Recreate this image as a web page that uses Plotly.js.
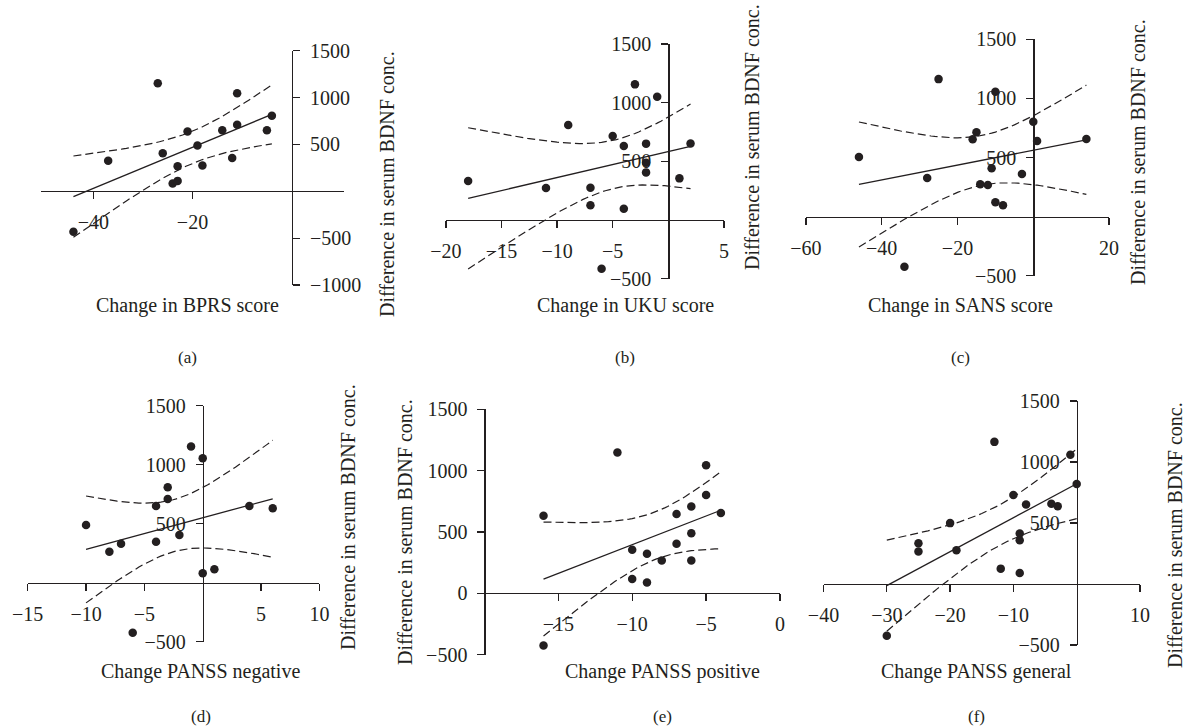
<!DOCTYPE html>
<html><head><meta charset="utf-8">
<script src="https://cdn.plot.ly/plotly-3.0.1.min.js"></script>
<style>html,body{margin:0;padding:0;background:#fff}#chart{width:1189px;height:726px}</style>
</head><body><div id="chart"></div>
<script>
// ---- data ----
const bprsX = [-44, -37, -27, -26, -21, -23, -24, -23, -19, -18, -14, -12, -11, -11, -5, -4];
const bprsY = [-432, 325, 1153, 407, 639, 268, 82, 111, 489, 275, 650, 354, 1046, 711, 650, 807];

const ukuX = [-18, -11, -9, -7, -7, -6, -5, -4, -4, -3, -2, -2, -2, -1, 1, 2];
const ukuY = [332, 273, 810, 276, 125, -415, 716, 631, 97, 1156, 651, 489, 406, 1051, 355, 653];

const sansX = [-46, -34, -28, -25, -16, -15, -14, -12, -11, -10, -10, -8, -3, 0, 1, 14];
const sansY = [504, -422, 326, 1162, 654, 713, 274, 268, 409, 1056, 122, 96, 361, 802, 639, 656];

const negX = [-10, -8, -7, -4, -4, -3, -3, -2, -1, 0, 0, 1, -6, 4, 6];
const negY = [489, 263, 331, 650, 347, 808, 709, 404, 1155, 1054, 80, 114, -424, 650, 630];

const posX = [-16, -16, -11, -10, -10, -9, -9, -8, -7, -7, -6, -6, -6, -5, -5, -4];
const posY = [632, -425, 1147, 354, 117, 322, 87, 267, 646, 403, 708, 490, 267, 1044, 801, 654];

const genX = [-30, -25, -25, -20, -19, -13, -12, -10, -9, -9, -9, -8, -4, -3, -1, 0];
const genY = [-425, 334, 266, 499, 277, 1165, 126, 729, 414, 359, 90, 652, 658, 638, 1060, 819];

const aXTicks = [-40, -20];
const aYTicks = [-1000, -500, 500, 1000, 1500];
const bXTicks = [-20, -15, -10, -5, 5];
const cXTicks = [-60, -40, -20, 20];
const dXTicks = [-15, -10, -5, 5, 10];
const eXTicks = [-15, -10, -5, 0];
const eYTicks = [-500, 0, 500, 1000, 1500];
const fXTicks = [-40, -30, -20, -10, 10];
const stdYTicks = [-500, 500, 1000, 1500];

const xTitles = ["Change in BPRS score", "Change in UKU score", "Change in SANS score",
                 "Change PANSS negative", "Change PANSS positive", "Change PANSS general"];
const panelLetters = ["(a)", "(b)", "(c)", "(d)", "(e)", "(f)"];
const yTitle = "Difference in serum BDNF conc.";

// t critical values (two-sided 95%) by degrees of freedom
const tCrit = {13: 2.160, 14: 2.145};

// ---- layout (pixel boxes) ----
const W = 1189, H = 726;
const INK = '#231f20';
const FONT = 'Liberation Serif, Times New Roman, serif';

const panels = [
  {x: bprsX, y: bprsY, xt: aXTicks, yt: aYTicks, xr: [-50.5, 10.5], yr: [-1000, 1500], px: [41.2, 343.8], py: [50.7, 285], side: 'right', yAt: 0,
   tx: 187, ty: 306, lx: 187, ly: 357, gx: 387, gy: 184},
  {x: ukuX, y: ukuY, xt: bXTicks, yt: stdYTicks, xr: [-20, 5], yr: [-500, 1500], px: [445.9, 723.9], py: [44, 278.7], side: 'left', yAt: 0,
   tx: 625, ty: 306, lx: 625, ly: 357, gx: 752, gy: 137},
  {x: sansX, y: sansY, xt: cXTicks, yt: stdYTicks, xr: [-60, 20], yr: [-500, 1500], px: [805.9, 1109.1], py: [39.1, 275.9], side: 'left', yAt: 0,
   tx: 960, ty: 306, lx: 960, ly: 357, gx: 1138, gy: 152},
  {x: negX, y: negY, xt: dXTicks, yt: stdYTicks, xr: [-15, 10], yr: [-500, 1500], px: [27.7, 319.4], py: [405.7, 641.7], side: 'left', yAt: 0,
   tx: 201, ty: 671, lx: 201, ly: 716, gx: 348, gy: 517},
  {x: posX, y: posY, xt: eXTicks, yt: eYTicks, xr: [-20, 0], yr: [-500, 1500], px: [484.4, 780], py: [409.3, 654.6], side: 'left', yAt: -20,
   tx: 662, ty: 671, lx: 662, ly: 716, gx: 405, gy: 532},
  {x: genX, y: genY, xt: fXTicks, yt: stdYTicks, xr: [-40, 10], yr: [-500, 1500], px: [823.5, 1140], py: [401, 645], side: 'left', yAt: 0,
   tx: 976, ty: 671, lx: 976, ly: 716, gx: 1175, gy: 535}
];

function regression(xs, ys) {
  const n = xs.length;
  const mx = xs.reduce((s, v) => s + v, 0) / n;
  const my = ys.reduce((s, v) => s + v, 0) / n;
  let sxx = 0, sxy = 0;
  for (let i = 0; i < n; i++) { sxx += (xs[i] - mx) ** 2; sxy += (xs[i] - mx) * (ys[i] - my); }
  const b = sxy / sxx, a = my - b * mx;
  let sse = 0;
  for (let i = 0; i < n; i++) sse += (ys[i] - a - b * xs[i]) ** 2;
  const s = Math.sqrt(sse / (n - 2));
  const t = tCrit[n - 2] || 2.145;
  const lo = Math.min(...xs), hi = Math.max(...xs);
  const gx = [], fit = [], up = [], dn = [];
  const steps = 60;
  for (let k = 0; k <= steps; k++) {
    const xv = lo + (hi - lo) * k / steps;
    const yh = a + b * xv;
    const h = t * s * Math.sqrt(1 / n + (xv - mx) ** 2 / sxx);
    gx.push(xv); fit.push(yh); up.push(yh + h); dn.push(yh - h);
  }
  return {gx, fit, up, dn};
}

const traces = [];
const layout = {
  width: W, height: H,
  margin: {l: 0, r: 0, t: 0, b: 0},
  paper_bgcolor: '#ffffff', plot_bgcolor: 'rgba(0,0,0,0)',
  showlegend: false,
  font: {family: FONT, size: 20, color: INK},
  annotations: []
};

panels.forEach((p, i) => {
  const sfx = i === 0 ? '' : String(i + 1);
  const xa = 'x' + sfx, ya = 'y' + sfx;
  const r = regression(p.x, p.y);
  traces.push({x: r.gx, y: r.up, xaxis: xa, yaxis: ya, mode: 'lines', type: 'scatter',
               line: {color: INK, width: 1.2, dash: '8px,4px'}, hoverinfo: 'skip'});
  traces.push({x: r.gx, y: r.dn, xaxis: xa, yaxis: ya, mode: 'lines', type: 'scatter',
               line: {color: INK, width: 1.2, dash: '8px,4px'}, hoverinfo: 'skip'});
  traces.push({x: r.gx, y: r.fit, xaxis: xa, yaxis: ya, mode: 'lines', type: 'scatter',
               line: {color: INK, width: 1.3}, hoverinfo: 'skip'});
  traces.push({x: p.x, y: p.y, xaxis: xa, yaxis: ya, mode: 'markers', type: 'scatter',
               marker: {color: INK, size: 8.5}, cliponaxis: false});

  const x0 = p.px[0] / W, x1 = p.px[1] / W;
  const yTop = 1 - p.py[0] / H, yBot = 1 - p.py[1] / H;
  const yZeroFrac = yBot + (0 - p.yr[0]) / (p.yr[1] - p.yr[0]) * (yTop - yBot);
  const xAxisFrac = x0 + (p.yAt - p.xr[0]) / (p.xr[1] - p.xr[0]) * (x1 - x0);

  layout['xaxis' + sfx] = {
    domain: [x0, x1], range: p.xr, anchor: 'free', position: yZeroFrac,
    showline: true, linecolor: INK, linewidth: 1.2,
    ticks: 'outside', ticklen: 7, tickwidth: 1.2, tickcolor: INK,
    tickmode: 'array', tickvals: p.xt, ticklabelstandoff: 6,
    showgrid: false, zeroline: false, fixedrange: true,
    tickfont: {family: FONT, size: 20, color: INK}
  };
  layout['yaxis' + sfx] = {
    domain: [yBot, yTop], range: p.yr, anchor: 'free', position: xAxisFrac, side: p.side,
    showline: true, linecolor: INK, linewidth: 1.2,
    ticks: 'outside', ticklen: 7, tickwidth: 1.2, tickcolor: INK,
    tickmode: 'array', tickvals: p.yt, ticklabelstandoff: 6,
    showgrid: false, zeroline: false, fixedrange: true,
    tickfont: {family: FONT, size: 20, color: INK}
  };

  layout.annotations.push({text: xTitles[i], xref: 'paper', yref: 'paper', x: p.tx / W, y: 1 - p.ty / H,
    xanchor: 'center', yanchor: 'middle', showarrow: false, font: {family: FONT, size: 20, color: INK}});
  layout.annotations.push({text: panelLetters[i], xref: 'paper', yref: 'paper', x: p.lx / W, y: 1 - p.ly / H,
    xanchor: 'center', yanchor: 'middle', showarrow: false, font: {family: FONT, size: 17, color: INK}});
  layout.annotations.push({text: yTitle, xref: 'paper', yref: 'paper', x: p.gx / W, y: 1 - p.gy / H,
    xanchor: 'center', yanchor: 'middle', textangle: -90, showarrow: false, font: {family: FONT, size: 20, color: INK}});
});

Plotly.newPlot('chart', traces, layout, {staticPlot: true, displayModeBar: false});
</script>
</body></html>
